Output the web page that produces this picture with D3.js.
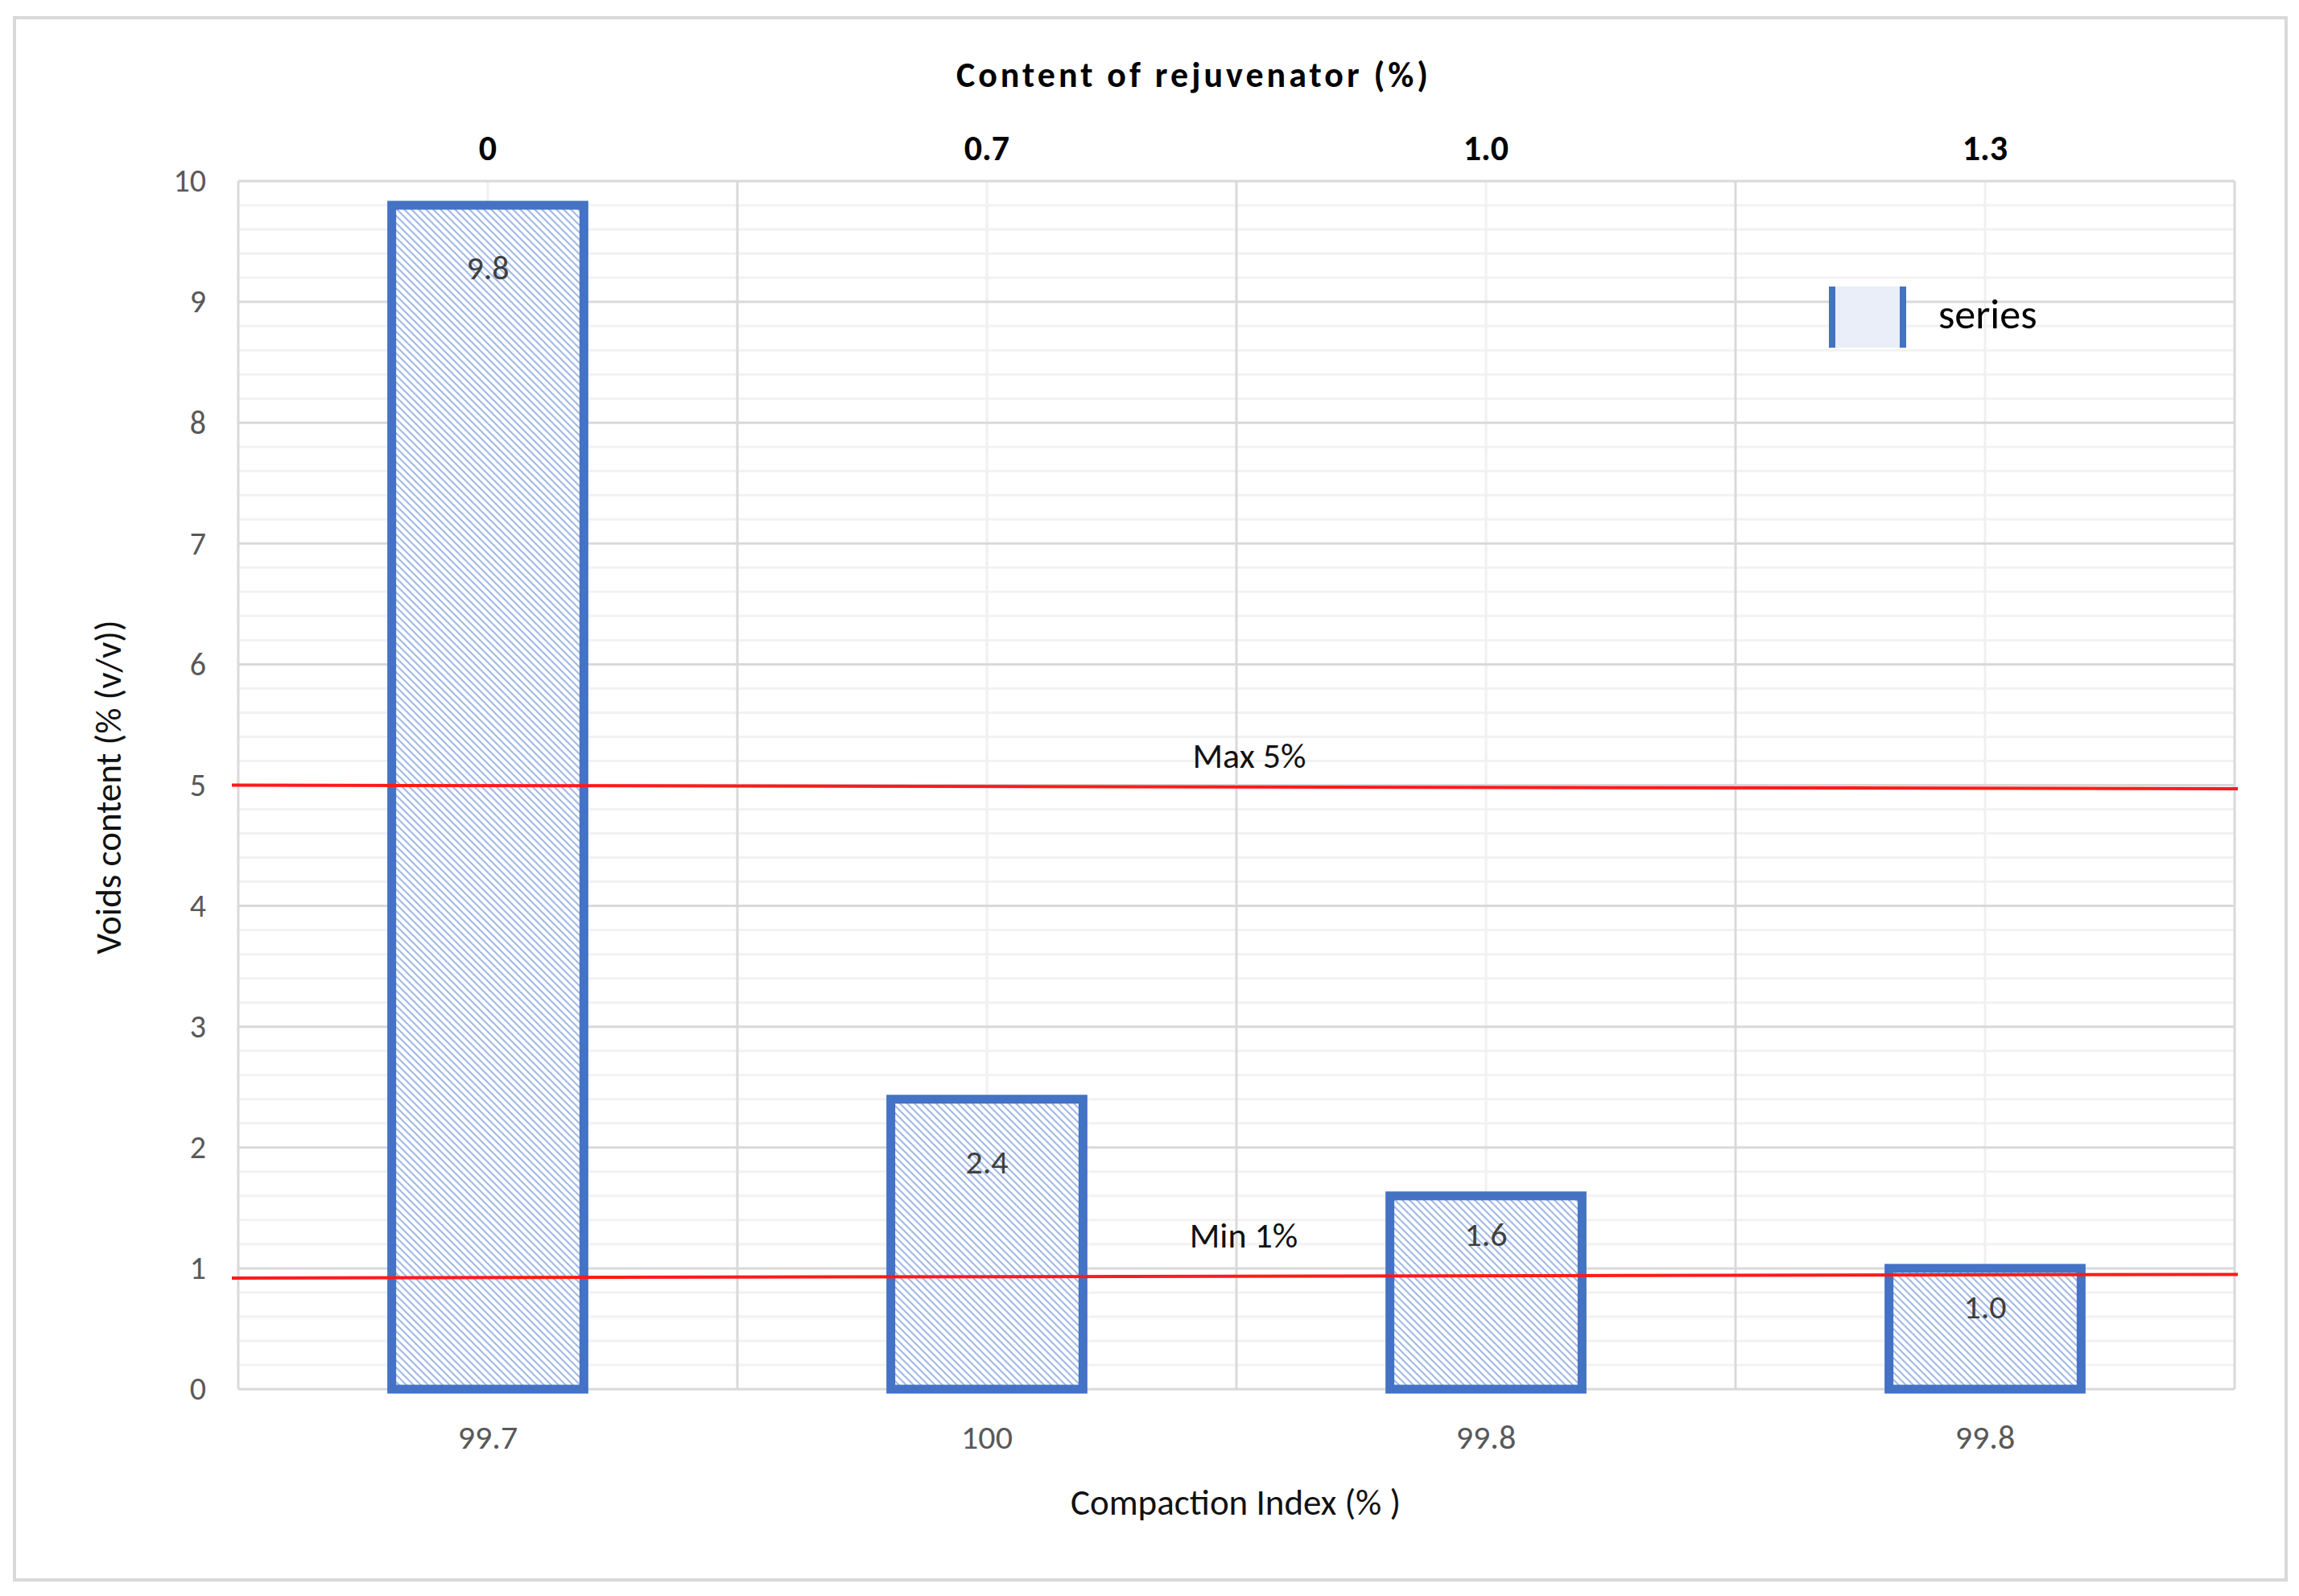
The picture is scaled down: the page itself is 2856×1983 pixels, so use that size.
<!DOCTYPE html>
<html><head><meta charset="utf-8">
<script src="https://cdn.jsdelivr.net/npm/d3@7"></script>
<style>body{margin:0;background:#fff}</style>
</head><body><svg id="chart"></svg>
<script>
const categories = ['0', '0.7', '1.0', '1.3'];
const compaction = ['99.7', '100', '99.8', '99.8'];
const voids = [9.8, 2.4, 1.6, 1.0];
const yTicks = [0, 1, 2, 3, 4, 5, 6, 7, 8, 9, 10];
const maxLine = [5.0, 4.97];
const minLine = [0.92, 0.95];

const W = 2856, H = 1983;
const margin = { top: 225, right: 80, bottom: 257, left: 296 };
const width = W - margin.left - margin.right;
const height = H - margin.top - margin.bottom;
const font = 'Calibri, Carlito, "Open Sans", sans-serif';

const svg = d3.select('#chart').attr('width', W).attr('height', H).style('font-family', font);

const defs = svg.append('defs');
const pat = defs.append('pattern').attr('id', 'hatch').attr('patternUnits', 'userSpaceOnUse')
  .attr('width', 9).attr('height', 9);
pat.append('rect').attr('width', 9).attr('height', 9).attr('fill', '#fff');
pat.append('path').attr('d', 'M-2,-2L11,11M-2,7L2,11M7,-2L11,2').attr('stroke', '#a3bbe6').attr('stroke-width', 2.2);

svg.append('rect').attr('x', 18).attr('y', 22).attr('width', 2822).attr('height', 1941)
  .attr('fill', 'none').attr('stroke', '#d9d9d9').attr('stroke-width', 4);

const g = svg.append('g').attr('transform', `translate(${margin.left},${margin.top})`);

const x = d3.scaleBand().domain(categories).range([0, width]).paddingInner(0).paddingOuter(0);
const y = d3.scaleLinear().domain([0, 10]).range([height, 0]);

// minor horizontal grid
g.selectAll('.minor').data(d3.range(0, 10.01, 0.2).filter(v => Math.abs(v - Math.round(v)) > 0.01))
  .enter().append('line').attr('x1', 0).attr('x2', width)
  .attr('y1', d => y(d)).attr('y2', d => y(d)).attr('stroke', '#f2f2f2').attr('stroke-width', 3);
// minor vertical at centers
g.selectAll('.vminor').data(categories).enter().append('line')
  .attr('x1', d => x(d) + x.bandwidth() / 2).attr('x2', d => x(d) + x.bandwidth() / 2)
  .attr('y1', 0).attr('y2', height).attr('stroke', '#f0f0f0').attr('stroke-width', 3);
// major grid
g.selectAll('.major').data(yTicks).enter().append('line').attr('x1', 0).attr('x2', width)
  .attr('y1', d => y(d)).attr('y2', d => y(d)).attr('stroke', '#d9d9d9').attr('stroke-width', 3);
g.selectAll('.vmajor').data(categories.concat(['end'])).enter().append('line')
  .attr('x1', (d, i) => i * x.bandwidth()).attr('x2', (d, i) => i * x.bandwidth())
  .attr('y1', 0).attr('y2', height).attr('stroke', '#d9d9d9').attr('stroke-width', 3);

// y labels
const yAxis = g.append('g').call(d3.axisLeft(y).tickValues(yTicks).tickSize(0).tickPadding(40));
yAxis.select('.domain').remove();
yAxis.selectAll('text').attr('font-size', 40).attr('fill', '#595959').style('font-family', font);

// bars
const bw = x.bandwidth() * 0.385;
g.selectAll('.bar').data(voids).enter().append('rect')
  .attr('x', (d, i) => x(categories[i]) + (x.bandwidth() - bw) / 2)
  .attr('y', d => y(d)).attr('width', bw).attr('height', d => height - y(d))
  .attr('fill', 'url(#hatch)').attr('stroke', '#4472c4').attr('stroke-width', 11);
g.selectAll('.val').data(voids).enter().append('text')
  .attr('x', (d, i) => x(categories[i]) + x.bandwidth() / 2)
  .attr('y', d => y(d) + (d >= 2 ? 92 : 62))
  .attr('text-anchor', 'middle').attr('font-size', 42).attr('fill', '#404040')
  .text(d => d.toFixed(1));

// limit lines
[maxLine, minLine].forEach(l => {
  g.append('line').attr('x1', -8).attr('x2', width + 4).attr('y1', y(l[0])).attr('y2', y(l[1]))
    .attr('stroke', '#ff1a1a').attr('stroke-width', 4);
});
g.append('text').attr('x', 1256).attr('y', y(5) - 22).attr('text-anchor', 'middle')
  .attr('font-size', 44).attr('fill', '#111').text('Max 5%');
g.append('text').attr('x', 1249).attr('y', y(1) - 26).attr('text-anchor', 'middle')
  .attr('font-size', 44).attr('fill', '#111').text('Min 1%');

// top labels
g.selectAll('.top').data(categories).enter().append('text')
  .attr('x', d => x(d) + x.bandwidth() / 2).attr('y', -26).attr('text-anchor', 'middle')
  .attr('font-size', 44).attr('font-weight', 'bold').attr('fill', '#000').text(d => d);
svg.append('text').attr('x', 1483).attr('y', 108).attr('text-anchor', 'middle')
  .attr('font-size', 44).attr('font-weight', 'bold').attr('letter-spacing', 4).attr('fill', '#000')
  .text('Content of rejuvenator (%)');

// bottom labels
g.selectAll('.bot').data(compaction).enter().append('text')
  .attr('x', (d, i) => x(categories[i]) + x.bandwidth() / 2).attr('y', height + 74)
  .attr('text-anchor', 'middle').attr('font-size', 42).attr('fill', '#595959').text(d => d);
svg.append('text').attr('x', 1535).attr('y', 1882).attr('text-anchor', 'middle')
  .attr('font-size', 45).attr('fill', '#111').text('Compaction Index  (% )');
svg.append('text').attr('transform', 'translate(150,978) rotate(-90)').attr('text-anchor', 'middle')
  .attr('font-size', 45).attr('fill', '#111').text('Voids content (% (v/v))');

// legend
const lg = svg.append('g').attr('transform', 'translate(2272,356)');
lg.append('rect').attr('width', 96).attr('height', 76).attr('fill', '#e9eef8');
lg.append('rect').attr('x', 0).attr('width', 8).attr('height', 76).attr('fill', '#4472c4');
lg.append('rect').attr('x', 88).attr('width', 8).attr('height', 76).attr('fill', '#4472c4');
lg.append('text').attr('x', 136).attr('y', 52).attr('font-size', 52).attr('fill', '#000').text('series');
</script></body></html>
